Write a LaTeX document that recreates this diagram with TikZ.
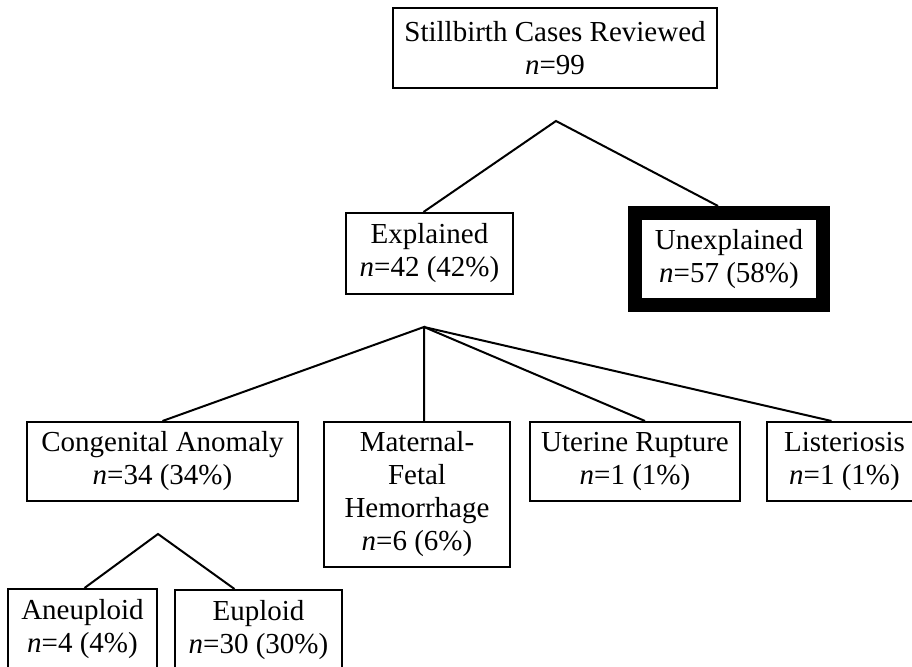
\documentclass[tikz,border=0pt]{standalone}
\usepackage{fontspec}
\setmainfont{Liberation Serif}
\tikzset{
  box/.style={draw, line width=1pt, align=center, inner sep=0pt,
    font=\fontsize{14.5}{16.5}\selectfont},
  link/.style={line width=1pt},
}
\begin{document}
\begin{tikzpicture}[x=0.5pt,y=-0.5pt]
\useasboundingbox (0,0) rectangle (912,667);
% boxes
\node[box, minimum width=162pt, minimum height=40pt] (total) at (555,48) {Stillbirth Cases Reviewed\\\textit{n}=99};
\node[box, minimum width=83.5pt, minimum height=40.5pt] (expl) at (429.5,253.5) {Explained\\\textit{n}=42 (42\%)};
\node[box, line width=7pt, minimum width=94pt, minimum height=46pt] (unexpl) at (729,259) {Unexplained\\\textit{n}=57 (58\%)};
\node[box, minimum width=135.5pt, minimum height=39.5pt] (cong) at (162.5,461.5) {Congenital Anomaly\\\textit{n}=34 (34\%)};
\node[box, minimum width=93pt, minimum height=72.5pt] (mat) at (417,494.5) {Maternal-\\Fetal\\Hemorrhage\\\textit{n}=6 (6\%)};
\node[box, minimum width=105pt, minimum height=39.5pt] (uter) at (635,461.5) {Uterine Rupture\\\textit{n}=1 (1\%)};
\node[box, minimum width=77.5pt, minimum height=39.5pt] (list) at (844.5,461.5) {Listeriosis\\\textit{n}=1 (1\%)};
\node[box, minimum width=74.5pt, minimum height=40pt] (aneu) at (82.5,629) {Aneuploid\\\textit{n}=4 (4\%)};
\node[box, minimum width=83.5pt, minimum height=40pt] (eupl) at (258.5,630) {Euploid\\\textit{n}=30 (30\%)};
% branch points
\coordinate (split1) at (556,121);
\coordinate (split2) at (424,327);
\coordinate (split3) at (158,534);
% connectors
\draw[link] ([xshift=-3pt]expl.north) -- (split1) -- ([xshift=-5.5pt]unexpl.north);
\draw[link] (cong.north) -- (split2) -- ([xshift=3.5pt]mat.north);
\draw[link] (split2) -- ([xshift=5pt]uter.north);
\draw[link] (split2) -- ([xshift=-6.5pt]list.north);
\draw[link] ([xshift=1pt]aneu.north) -- (split3) -- ([xshift=-12pt]eupl.north);
\end{tikzpicture}
\end{document}
